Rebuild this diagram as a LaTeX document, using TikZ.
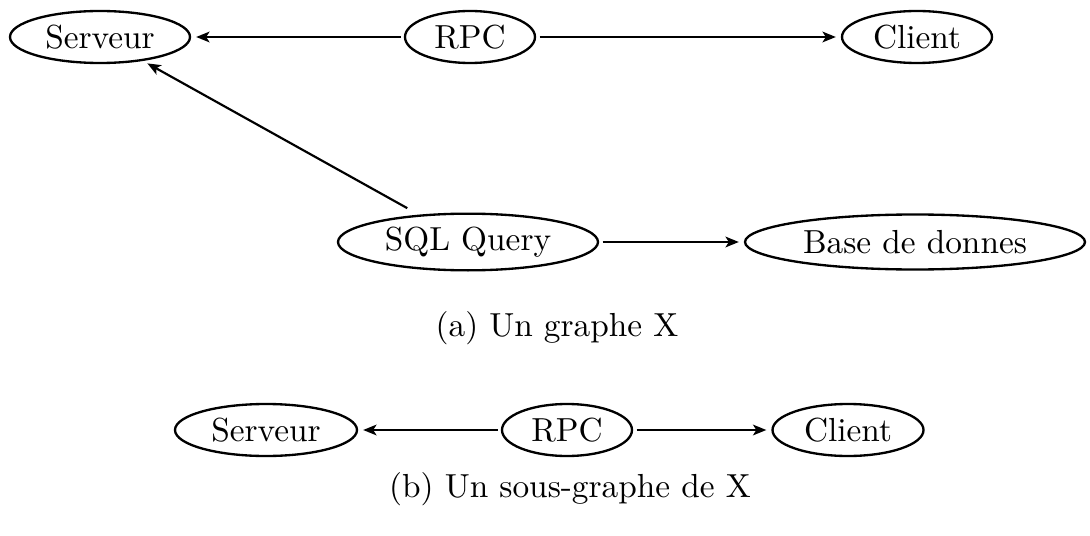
\documentclass[tikz,border=0pt]{standalone}
\usetikzlibrary{shapes.geometric,arrows.meta}
\begin{document}
\begin{tikzpicture}[x=0.3pt,y=-0.3pt,
  gnode/.style={draw,ellipse,line width=0.7pt,inner sep=0pt,font=\fontsize{10}{12}\selectfont},
  edge/.style={line width=0.65pt,-{Stealth[length=4pt,width=3.2pt,inset=1pt]},shorten >=1.5pt,shorten <=1pt},
  capt/.style={font=\fontsize{10}{12}\selectfont}]
\useasboundingbox (0,0) rectangle (1090,536);
% (a)
\node[gnode,minimum width=54pt,minimum height=15.6pt] (s1) at (100,37) {Serveur};
\node[gnode,minimum width=39pt,minimum height=15.6pt] (r1) at (470,37) {RPC};
\node[gnode,minimum width=45pt,minimum height=15.6pt] (c1) at (917,37) {Client};
\node[gnode,minimum width=78pt,minimum height=17pt] (q1) at (468,242) {SQL Query};
\node[gnode,minimum width=102pt,minimum height=16.5pt] (b1) at (915,242) {Base de donnes};
\draw[edge] (r1) -- (s1);
\draw[edge] (r1) -- (c1);
\draw[edge,shorten <=4pt] (q1) -- (s1);
\draw[edge] (q1) -- (b1);
\node[capt] (ca) at (557,328) {(a) Un graphe X};
% (b)
\node[gnode,minimum width=54.6pt,minimum height=15.6pt] (s2) at (266,430) {Serveur};
\node[gnode,minimum width=39pt,minimum height=15.6pt] (r2) at (567,430) {RPC};
\node[gnode,minimum width=45.3pt,minimum height=15.6pt] (c2) at (848,430) {Client};
\draw[edge] (r2) -- (s2);
\draw[edge] (r2) -- (c2);
\node[capt] (cb) at (570,489) {(b) Un sous-graphe de X};
\end{tikzpicture}
\end{document}
